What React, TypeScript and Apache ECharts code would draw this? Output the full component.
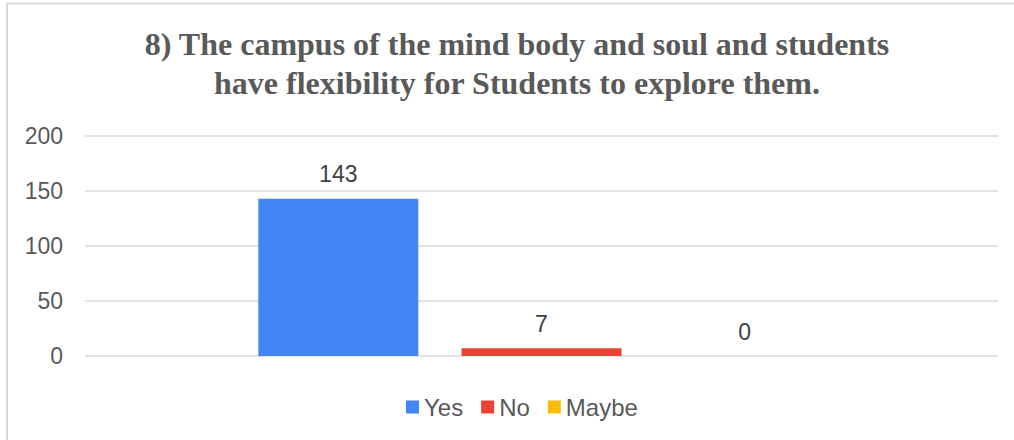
import React, { useEffect, useRef } from "react";
import * as echarts from "echarts";

const titleLines = [
  "8) The campus of the mind body and soul and students",
  "have flexibility for Students to explore them.",
];
const categories = [""];
const seriesNames = ["Yes", "No", "Maybe"];
const yesValues = [143];
const noValues = [7];
const maybeValues = [0];
const seriesColors = ["#4285F4", "#EA4335", "#FBBC04"];
const yMin = 0;
const yMax = 200;
const yInterval = 50;

export default function App() {
  const ref = useRef<HTMLDivElement>(null);
  useEffect(() => {
    document.body.style.margin = "0";
    if (!ref.current) return;
    const chart = echarts.init(ref.current, undefined, { renderer: "svg" });
    const values = [yesValues, noValues, maybeValues];
    chart.setOption({
      animation: false,
      backgroundColor: "#ffffff",
      title: {
        text: titleLines.join("\n"),
        left: 517,
        top: 24,
        textAlign: "center",
        padding: 0,
        textStyle: {
          fontFamily: "Liberation Serif",
          fontWeight: "bold",
          fontSize: 32,
          lineHeight: 39,
          color: "#595959",
        },
      },
      graphic: [
        { type: "line", shape: { x1: 7, y1: 3.5, x2: 1014, y2: 3.5 }, style: { stroke: "#d9d9d9", lineWidth: 2 } },
        { type: "line", shape: { x1: 7, y1: 3.5, x2: 7, y2: 440 }, style: { stroke: "#d9d9d9", lineWidth: 2 } },
      ],
      legend: {
        data: seriesNames,
        left: 406,
        top: 395,
        padding: 0,
        itemWidth: 13,
        itemHeight: 13,
        itemGap: 18,
        icon: "rect",
        textStyle: { fontFamily: "Liberation Sans", fontSize: 24, color: "#595959" },
      },
      grid: { left: 85, right: 16, top: 136, bottom: 84 },
      xAxis: {
        type: "category",
        data: categories,
        axisLine: { show: false },
        axisTick: { show: false },
        axisLabel: { show: false },
      },
      yAxis: {
        type: "value",
        min: yMin,
        max: yMax,
        interval: yInterval,
        axisLine: { show: false },
        axisTick: { show: false },
        axisLabel: { fontFamily: "Liberation Sans", fontSize: 23, color: "#595959", margin: 22 },
        splitLine: { lineStyle: { color: "#d9d9d9", width: 1.5 } },
      },
      series: seriesNames.map((name, i) => ({
        name,
        type: "bar",
        data: values[i],
        barWidth: 160,
        barGap: "27%",
        itemStyle: { color: seriesColors[i] },
        label: {
          show: true,
          position: "top",
          distance: 13,
          fontFamily: "Liberation Sans",
          fontSize: 23,
          color: "#404040",
        },
      })),
    });
    return () => chart.dispose();
  }, []);
  return <div ref={ref} style={{ width: 1014, height: 440 }} />;
}
